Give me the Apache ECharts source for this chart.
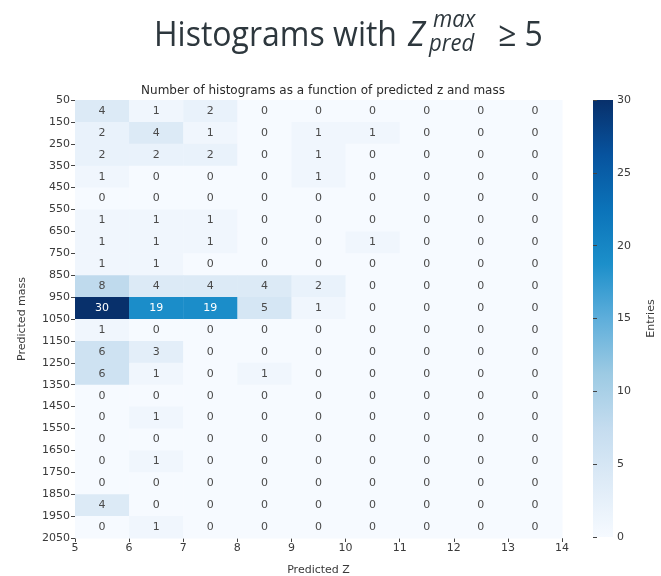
<!DOCTYPE html>
<html>
<head>
<meta charset="utf-8">
<script src="https://cdn.jsdelivr.net/npm/echarts@6/dist/echarts.min.js"></script>
<style>
  html, body { margin: 0; padding: 0; background: #ffffff; }
  #chart { width: 661px; height: 576px; }
</style>
</head>
<body>
<div id="chart"></div>
<script>
// Bin edges shown as tick labels
const zEdges = ['5', '6', '7', '8', '9', '10', '11', '12', '13', '14'];
const massEdges = ['50', '150', '250', '350', '450', '550', '650', '750', '850', '950',
  '1050', '1150', '1250', '1350', '1450', '1550', '1650', '1750', '1850', '1950', '2050'];

// Counts per mass bin (rows, top to bottom), one value per predicted-z bin
const counts = [
  [4, 1, 2, 0, 0, 0, 0, 0, 0],
  [2, 4, 1, 0, 1, 1, 0, 0, 0],
  [2, 2, 2, 0, 1, 0, 0, 0, 0],
  [1, 0, 0, 0, 1, 0, 0, 0, 0],
  [0, 0, 0, 0, 0, 0, 0, 0, 0],
  [1, 1, 1, 0, 0, 0, 0, 0, 0],
  [1, 1, 1, 0, 0, 1, 0, 0, 0],
  [1, 1, 0, 0, 0, 0, 0, 0, 0],
  [8, 4, 4, 4, 2, 0, 0, 0, 0],
  [30, 19, 19, 5, 1, 0, 0, 0, 0],
  [1, 0, 0, 0, 0, 0, 0, 0, 0],
  [6, 3, 0, 0, 0, 0, 0, 0, 0],
  [6, 1, 0, 1, 0, 0, 0, 0, 0],
  [0, 0, 0, 0, 0, 0, 0, 0, 0],
  [0, 1, 0, 0, 0, 0, 0, 0, 0],
  [0, 0, 0, 0, 0, 0, 0, 0, 0],
  [0, 1, 0, 0, 0, 0, 0, 0, 0],
  [0, 0, 0, 0, 0, 0, 0, 0, 0],
  [4, 0, 0, 0, 0, 0, 0, 0, 0],
  [0, 1, 0, 0, 0, 0, 0, 0, 0]
];

// Colour bar range and ticks
const cbarMin = 0;
const cbarMax = 30;
const cbarStep = 5;

// Blue colour ramp (low -> high)
const blues = ['#f6faff', '#deebf7', '#c4dcef', '#9ccae3', '#5eaedb',
  '#1c8fca', '#0b73b9', '#07539e', '#08306b'];

const cells = [];
counts.forEach((row, j) => row.forEach((v, i) => cells.push([i, j, v])));

// Slightly condensed heading: fit the main words to a fixed width
const headFont = '34px "Open Sans"';
const headWidth = 243;
const measureCtx = document.createElement('canvas').getContext('2d');
measureCtx.font = headFont;
const headScale = headWidth / measureCtx.measureText('Histograms with').width;
const inkColor = '#2d373d';

const chart = echarts.init(document.getElementById('chart'), null, { renderer: 'canvas' });

const tickFont = { fontFamily: 'DejaVu Sans', fontSize: 11, color: '#3a3a3a' };
const tickStyle = { show: true, length: 4, lineStyle: { color: '#444', width: 1 } };

function headText(str, x, y, font, scale) {
  return {
    type: 'text', x: x, y: y, scaleX: scale || 1,
    style: { text: str, font: font, fill: inkColor, verticalAlign: 'middle', align: 'left' }
  };
}

chart.setOption({
  backgroundColor: '#ffffff',
  animation: false,
  title: {
    text: 'Number of histograms as a function of predicted z and mass',
    left: 318,
    textAlign: 'center',
    top: 80,
    textStyle: { fontFamily: 'DejaVu Sans', fontSize: 12, fontWeight: 'normal', color: '#2a2a2a' }
  },
  graphic: [
    headText('Histograms with', 154, 36, headFont, headScale),
    headText('Z', 408, 36, 'italic 34px "Open Sans"', headScale),
    headText('max', 433, 20, 'italic 24px "Open Sans"', 0.92),
    headText('pred', 429, 44, 'italic 24px "Open Sans"', 0.92),
    headText('≥ 5', 498, 36, headFont, headScale)
  ],
  grid: [
    { left: 75, top: 100, width: 487, height: 438, outerBoundsMode: 'none' },
    { left: 593, top: 100, width: 20, height: 437, outerBoundsMode: 'none' }
  ],
  xAxis: [
    {
      type: 'category',
      gridIndex: 0,
      data: zEdges,
      boundaryGap: false,
      name: 'Predicted Z',
      nameLocation: 'middle',
      nameGap: 27,
      nameTextStyle: { fontFamily: 'DejaVu Sans', fontSize: 11, color: '#3a3a3a' },
      axisLine: { show: false },
      axisTick: tickStyle,
      axisLabel: Object.assign({ margin: 5 }, tickFont),
      splitLine: { show: false }
    },
    {
      type: 'value', gridIndex: 1, min: 0, max: 1,
      axisLine: { show: false }, axisTick: { show: false }, axisLabel: { show: false }, splitLine: { show: false }
    }
  ],
  yAxis: [
    {
      type: 'category',
      gridIndex: 0,
      data: massEdges,
      boundaryGap: false,
      inverse: true,
      name: 'Predicted mass',
      nameLocation: 'middle',
      nameGap: 47,
      nameRotate: 90,
      nameTextStyle: { fontFamily: 'DejaVu Sans', fontSize: 11, color: '#3a3a3a' },
      axisLine: { show: false },
      axisTick: tickStyle,
      axisLabel: Object.assign({ margin: 5 }, tickFont),
      splitLine: { show: false }
    },
    {
      type: 'value',
      gridIndex: 1,
      position: 'right',
      min: cbarMin,
      max: cbarMax,
      interval: cbarStep,
      name: 'Entries',
      nameLocation: 'middle',
      nameGap: 33,
      nameRotate: 90,
      nameTextStyle: { fontFamily: 'DejaVu Sans', fontSize: 11, color: '#3a3a3a' },
      axisLine: { show: false },
      axisTick: tickStyle,
      axisLabel: Object.assign({ margin: 4 }, tickFont),
      splitLine: { show: false },
      z: 5
    }
  ],
  visualMap: {
    show: false,
    type: 'continuous',
    seriesIndex: 0,
    dimension: 2,
    min: cbarMin,
    max: cbarMax,
    inRange: { color: blues }
  },
  series: [
    {
      type: 'custom',
      xAxisIndex: 0,
      yAxisIndex: 0,
      data: cells,
      renderItem: function (params, api) {
        const i = api.value(0);
        const j = api.value(1);
        const v = api.value(2);
        const a = api.coord([i, j]);
        const b = api.coord([i + 1, j + 1]);
        const x = Math.min(a[0], b[0]);
        const y = Math.min(a[1], b[1]);
        const w = Math.abs(b[0] - a[0]);
        const h = Math.abs(b[1] - a[1]);
        return {
          type: 'group',
          children: [
            { type: 'rect', shape: { x: x, y: y, width: w + 0.5, height: h + 0.5 }, style: { fill: api.visual('color') } },
            {
              type: 'text',
              x: x + w / 2,
              y: y + h / 2,
              style: {
                text: String(v),
                align: 'center',
                verticalAlign: 'middle',
                font: '11px "DejaVu Sans"',
                fill: v > 15 ? '#ffffff' : '#4a4a4a'
              }
            }
          ]
        };
      }
    },
    {
      type: 'custom',
      xAxisIndex: 1,
      yAxisIndex: 1,
      data: [[0, cbarMin, cbarMax]],
      renderItem: function (params, api) {
        const a = api.coord([0, api.value(1)]);
        const b = api.coord([1, api.value(2)]);
        const stops = blues.map((c, k) => ({ offset: 1 - k / (blues.length - 1), color: c })).reverse();
        return {
          type: 'rect',
          shape: { x: a[0], y: b[1], width: b[0] - a[0], height: a[1] - b[1] },
          style: { fill: new echarts.graphic.LinearGradient(0, 0, 0, 1, stops) }
        };
      }
    }
  ]
});
</script>
</body>
</html>
